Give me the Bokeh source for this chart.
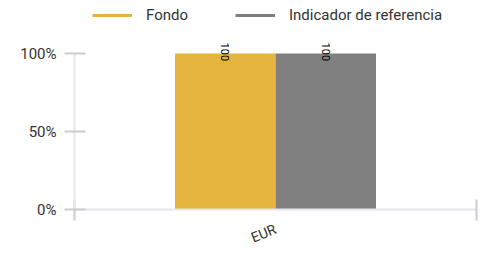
import math
from bokeh.plotting import figure
from bokeh.models import (Range1d, LinearAxis, FixedTicker,
                          PrintfTickFormatter, Legend, LegendItem, ColumnDataSource)
from bokeh.transform import dodge
from bokeh.core.properties import value
from bokeh.embed import file_html
from bokeh.resources import INLINE

categories = ["EUR"]
fondo = [100]
indicador = [100]
series_names = ["Fondo", "Indicador de referencia"]
y_ticks = [0, 50, 100]

colors = ["#E5B43D", "#808080"]
FONT = "Roboto"
TXT = "#333333"

centers = [i + 0.5 for i in range(len(categories))]
src = ColumnDataSource(dict(pos=centers, fondo=fondo, indicador=indicador,
                            fondo_lbl=[str(v) for v in fondo],
                            ind_lbl=[str(v) for v in indicador]))

# the frame extends to the top of the canvas so the legend can sit inside it
p = figure(x_range=Range1d(0, len(categories)), y_range=Range1d(0, 134),
           width=490, height=255, output_backend="svg", toolbar_location=None,
           x_axis_location=None, y_axis_location=None,
           min_border_left=74, min_border_right=14, min_border_top=0, min_border_bottom=40)
p.outline_line_color = None
p.xgrid.visible = False
p.ygrid.visible = False
p.background_fill_color = "white"
p.border_fill_color = "white"

p.vbar(x=dodge("pos", -0.125), top="fondo", width=0.25,
       source=src, fill_color=colors[0], line_color=None)
p.vbar(x=dodge("pos", 0.125), top="indicador", width=0.25,
       source=src, fill_color=colors[1], line_color=None)

for lbl, ycol, off in (("fondo_lbl", "fondo", -0.125), ("ind_lbl", "indicador", 0.125)):
    p.text(x=dodge("pos", off), y=ycol, text=lbl, source=src,
           angle=-math.pi / 2, text_align="left", text_baseline="middle", y_offset=-11,
           text_font=value(FONT), text_font_size="11px", text_color="#000000")

# y axis
yax = LinearAxis(ticker=FixedTicker(ticks=y_ticks), formatter=PrintfTickFormatter(format="%d%%"),
                 bounds=(0, 100))
yax.axis_line_color = "#E6E6EE"
yax.axis_line_width = 2
yax.major_tick_line_color = "#CCCCCC"
yax.major_tick_line_width = 2
yax.major_tick_in = 11
yax.major_tick_out = 10
yax.minor_tick_line_color = None
yax.major_label_standoff = 8
yax.major_label_text_font = FONT
yax.major_label_text_font_size = "15px"
yax.major_label_text_color = TXT
p.add_layout(yax, "left")

# category edge ticks
edges = list(range(len(categories) + 1))
eax = LinearAxis(ticker=FixedTicker(ticks=edges),
                 major_label_overrides={e: "" for e in edges})
eax.axis_line_color = "#E6E6EE"
eax.axis_line_width = 2
eax.major_tick_line_color = "#CCCCCC"
eax.major_tick_line_width = 2
eax.major_tick_in = 10
eax.major_tick_out = 11
eax.minor_tick_line_color = None
eax.major_label_standoff = 0
eax.major_label_text_font_size = "1px"
p.add_layout(eax, "below")

# category labels
cax = LinearAxis(ticker=FixedTicker(ticks=centers),
                 major_label_overrides={c: name for c, name in zip(centers, categories)})
cax.axis_line_color = None
cax.major_tick_line_color = None
cax.minor_tick_line_color = None
cax.major_tick_in = 0
cax.major_tick_out = 0
cax.major_label_orientation = math.radians(22)
cax.major_label_standoff = 8
cax.major_label_text_font = FONT
cax.major_label_text_font_size = "14px"
cax.major_label_text_color = TXT
p.add_layout(cax, "below")

# legend (swatch-only renderers hold one NaN point so their line style is defined)
nan = float("nan")
r1 = p.line(x=[nan], y=[nan], line_color=colors[0], line_width=3)
r2 = p.line(x=[nan], y=[nan], line_color=colors[1], line_width=3)
legend = Legend(items=[LegendItem(label=series_names[0], renderers=[r1]),
                       LegendItem(label=series_names[1], renderers=[r2])],
                orientation="horizontal", location=(18, 185),
                glyph_width=40, glyph_height=16, label_height=16, label_standoff=14, spacing=47,
                padding=0, margin=0, border_line_color=None, background_fill_alpha=0,
                label_text_font=FONT, label_text_font_size="15px", label_text_color=TXT)
p.add_layout(legend)

open("out.html", "w").write(file_html(p, INLINE))
